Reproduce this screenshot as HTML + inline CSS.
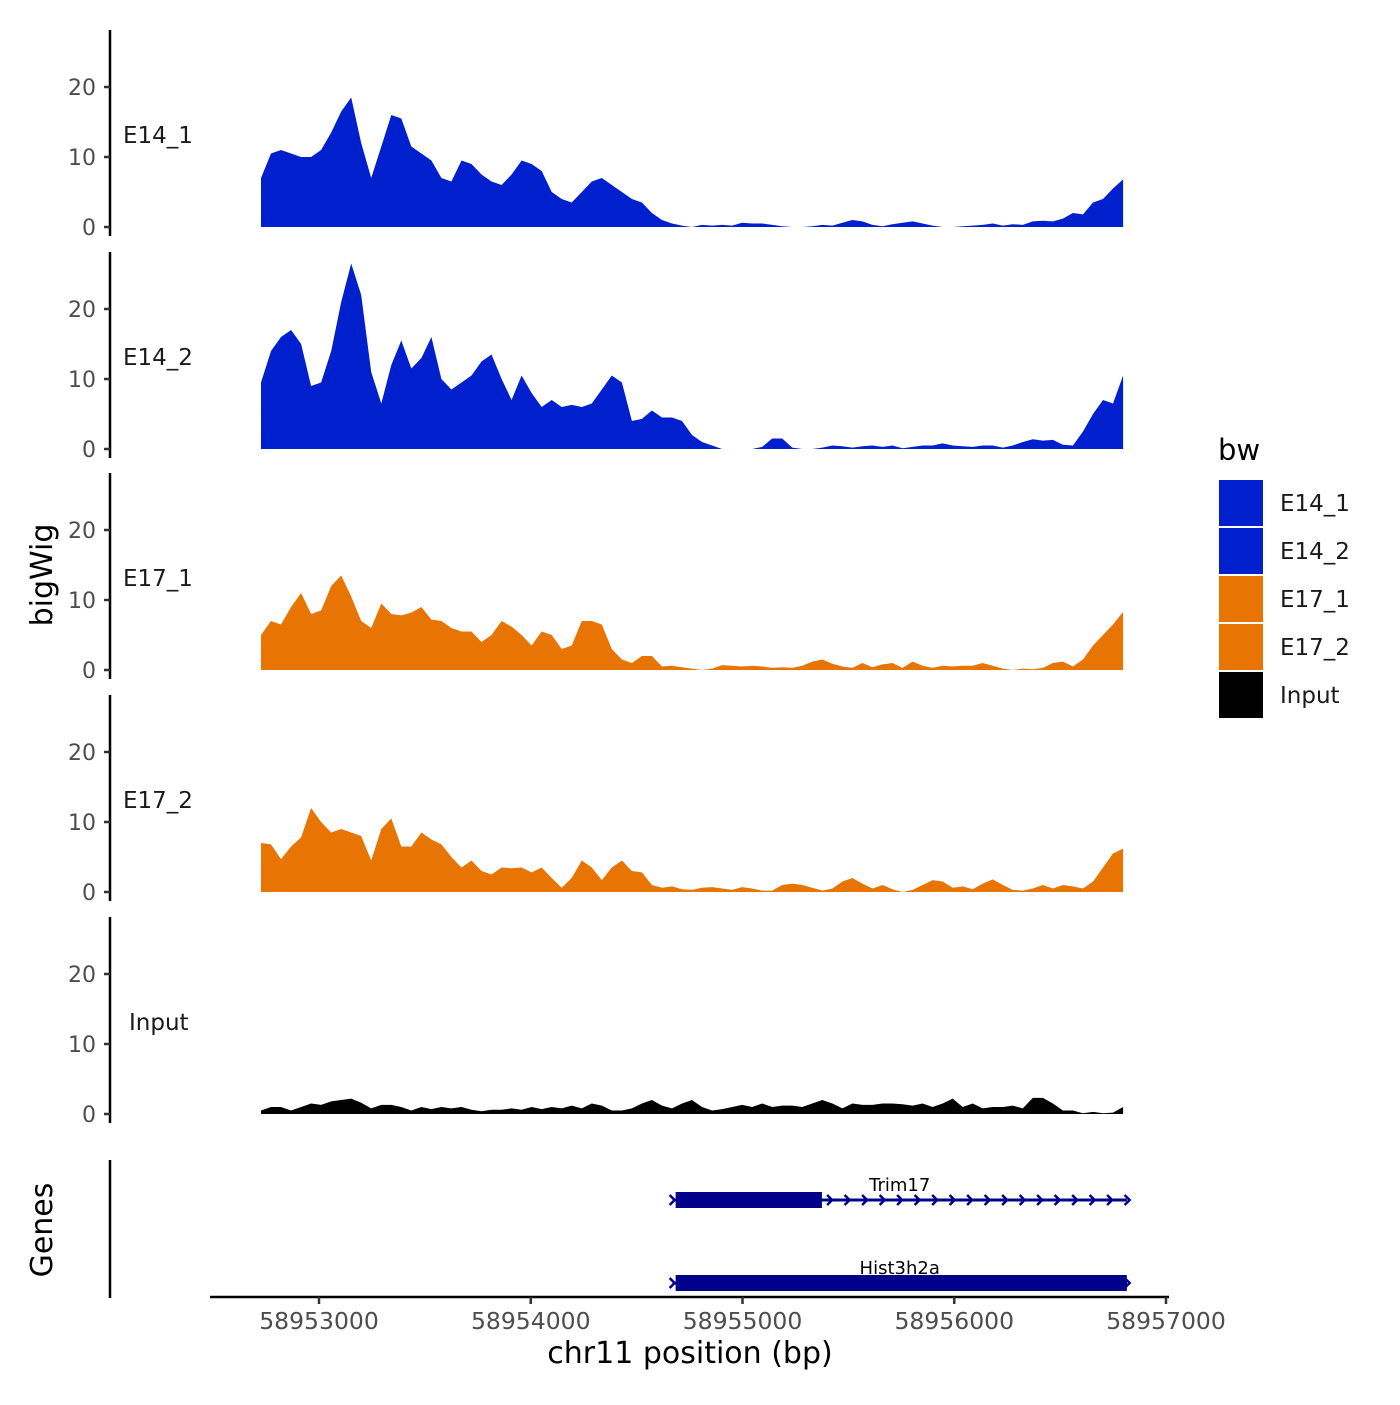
<!DOCTYPE html>
<html><head><meta charset="utf-8"><style>
body{margin:0;background:#fff}
svg{font-family:"DejaVu Sans","Liberation Sans",sans-serif}
</style></head><body>
<svg id="chart" width="1400" height="1400" viewBox="0 0 1400 1400">
<g id="panels"></g>
<g id="genes"></g>
<g id="xaxis"></g>
<text x="52" y="575" transform="rotate(-90 52 575)" text-anchor="middle" font-size="30">bigWig</text>
<text x="52" y="1230" transform="rotate(-90 52 1230)" text-anchor="middle" font-size="30">Genes</text>
<text x="690" y="1363" text-anchor="middle" font-size="30">chr11 position (bp)</text>
<g id="legend"></g>
</svg>
<script>
const samples = ["E14_1","E14_2","E17_1","E17_2","Input"];
const colors = ["#0020CD","#0020CD","#E87503","#E87503","#000000"];
const startBp = 58952726;
const stepBp = 47.34;
const e14_1 = [7,10.5,11,10.5,10,10,11,13.5,16.5,18.5,12,7,11.5,16,15.5,11.5,10.5,9.5,7,6.5,9.5,9,7.5,6.5,6,7.5,9.5,9,8,5,4,3.5,5,6.5,7,6,5,4,3.5,2,1,0.5,0.2,0,0.3,0.2,0.3,0.2,0.6,0.5,0.5,0.3,0.1,0,0,0.1,0.3,0.2,0.6,1,0.8,0.3,0.1,0.4,0.6,0.8,0.5,0.2,0,0,0.1,0.2,0.3,0.5,0.2,0.4,0.3,0.8,0.9,0.8,1.2,2,1.8,3.5,4,5.5,6.8];
const e14_2 = [9.5,14,16,17,15,9,9.5,14,21,26.5,22,11,6.5,12,15.5,11.5,13,16,10,8.5,9.5,10.5,12.5,13.5,10,7,10.5,8,6,7,6,6.3,6,6.5,8.5,10.5,9.5,4,4.3,5.5,4.5,4.5,4,2,1,0.5,0,0,0,0,0.3,1.5,1.5,0.2,0,0,0.2,0.5,0.4,0.2,0.4,0.5,0.3,0.5,0.1,0.3,0.5,0.5,0.8,0.5,0.4,0.3,0.5,0.5,0.2,0.5,1,1.4,1.2,1.3,0.6,0.5,2.5,5,7,6.5,10.5];
const e17_1 = [5,7,6.5,9,11,8,8.5,12,13.5,10.5,7,6,9.5,8,7.8,8.2,9,7.2,7,6,5.5,5.5,4,5,7,6.2,5,3.5,5.5,5,3,3.5,7,7,6.5,3,1.5,1,2,2,0.5,0.6,0.4,0.2,0,0.2,0.7,0.6,0.5,0.6,0.5,0.3,0.4,0.3,0.6,1.2,1.5,0.9,0.5,0.3,1,0.4,0.8,1,0.3,1.2,0.6,0.3,0.6,0.5,0.6,0.6,1,0.6,0.2,0,0.2,0.1,0.3,1,1.2,0.5,1.5,3.5,5,6.5,8.3];
const e17_2 = [7,6.8,4.7,6.5,7.8,12,10,8.5,9,8.5,8,4.5,9,10.5,6.5,6.5,8.5,7.5,6.8,5,3.5,4.5,3,2.5,3.5,3.4,3.5,2.8,3.5,2,0.6,2,4.5,3.5,1.7,3.5,4.5,3,2.8,1,0.6,0.8,0.4,0.3,0.6,0.7,0.5,0.3,0.7,0.5,0.2,0.2,1,1.2,1,0.6,0.2,0.5,1.5,2,1.2,0.5,1,0.4,0,0.3,1,1.7,1.5,0.6,0.8,0.4,1.2,1.8,1,0.3,0.2,0.5,1,0.5,1,0.8,0.5,1.5,3.5,5.5,6.2];
const input = [0.5,1,1,0.5,1,1.5,1.3,1.8,2,2.2,1.6,0.8,1.3,1.3,1,0.5,1,0.7,1,0.8,1,0.6,0.4,0.6,0.6,0.8,0.6,1,0.7,1,0.8,1.2,0.8,1.5,1.2,0.5,0.5,0.8,1.5,2,1.2,0.8,1.5,2,1,0.5,0.7,1,1.3,1,1.5,1,1.2,1.2,1,1.5,2,1.5,0.8,1.5,1.3,1.3,1.5,1.5,1.4,1.2,1.5,1,1.5,2.2,1,1.5,0.8,1,1,1.2,0.8,2.3,2.3,1.5,0.5,0.5,0.1,0.3,0.1,0.2,1];
const series = [e14_1,e14_2,e17_1,e17_2,input];
const yTicks = [0,10,20];
const xTicks = [58953000,58954000,58955000,58956000,58957000];
const geneNames = ["Trim17","Hist3h2a"];
const geneStart = [58954670,58954670];
const geneEnd = [58956815,58956815];
const cdsEnd = [58955375,58956815];

const NS="http://www.w3.org/2000/svg";
function mk(tag,attrs,parent){const e=document.createElementNS(NS,tag);for(const k in attrs)e.setAttribute(k,attrs[k]);parent.appendChild(e);return e;}
const xs = bp => 319 + (bp-58953000)*0.21175;
const baselines=[227,449,670,892,1114];
const ppu=7;
const panels=document.getElementById('panels');
samples.forEach((s,p)=>{
  const g=mk('g',{},panels);
  
  
  const b=baselines[p];
  const ys=v=>b-v*ppu;
  const ax=mk('line',{x1:110,x2:110,y1:b-197,y2:b+9,stroke:'#000','stroke-width':2.5},g);
  
  
  yTicks.forEach(t=>{
    const tk=mk('line',{x1:104,x2:110,y1:ys(t),y2:ys(t),stroke:'#333','stroke-width':2.5},g);
    
    
    const tl=mk('text',{x:96,y:ys(t)+8,'text-anchor':'end','font-size':22,fill:'#4d4d4d'},g);
    tl.textContent=t;
    
    
  });
  const vals=series[p];
  let d='M'+xs(startBp)+','+b;
  vals.forEach((v,i)=>{d+=' L'+xs(startBp+i*stepBp).toFixed(1)+','+ys(v).toFixed(1);});
  d+=' L'+xs(startBp+(vals.length-1)*stepBp).toFixed(1)+','+b+' Z';
  const area=mk('path',{d:d,fill:colors[p]},g);
  
  
  const lab=mk('text',{x:s==='Input'?129:123,y:b-84,'font-size':23,fill:'#1a1a1a'},g);
  lab.textContent=s;
  
  
});
// genes
const genes=document.getElementById('genes');
const gax=mk('line',{x1:110,x2:110,y1:1160,y2:1298,stroke:'#000','stroke-width':2.5},genes);


const gy=[1200,1283];
geneNames.forEach((n,i)=>{
  const g=mk('g',{},genes);
  
  
  const x0=xs(geneStart[i]),x1=xs(geneEnd[i]),xc=xs(cdsEnd[i]);
  mk('line',{x1:x0,x2:x1,y1:gy[i],y2:gy[i],stroke:'#00008B','stroke-width':3},g);
  for(let x=x0;x<=x1+1;x+=17.5){
    mk('path',{d:`M${x-3},${gy[i]-5} L${x+2},${gy[i]} L${x-3},${gy[i]+5}`,fill:'none',stroke:'#00008B','stroke-width':2.5},g);
  }
  mk('rect',{x:x0+3,y:gy[i]-8,width:xc-x0-3,height:16,fill:'#00008B'},g);
  const t=mk('text',{x:(x0+x1)/2,y:gy[i]-9,'text-anchor':'middle','font-size':18,fill:'#000'},g);
  t.textContent=n;
  
  
});
// x axis
const xa=document.getElementById('xaxis');
mk('line',{x1:210,x2:1169,y1:1297,y2:1297,stroke:'#000','stroke-width':2.5},xa);
xTicks.forEach(t=>{
  const tk=mk('line',{x1:xs(t),x2:xs(t),y1:1297,y2:1304,stroke:'#333','stroke-width':2.5},xa);
  
  
  const tl=mk('text',{x:xs(t),y:1329,'text-anchor':'middle','font-size':23.5,fill:'#4d4d4d'},xa);
  tl.textContent=t;
  
  
});
// legend
const lg=document.getElementById('legend');
const lt=mk('text',{x:1218,y:460,'font-size':29},lg);
lt.textContent='bw';


samples.forEach((s,i)=>{
  const g=mk('g',{},lg);
  
  
  mk('rect',{x:1219,y:480+i*48,width:44,height:46,fill:colors[i]},g);
  const t=mk('text',{x:1280,y:511+i*48,'font-size':23,fill:'#1a1a1a'},g);
  t.textContent=s;
});
</script>
</body></html>
